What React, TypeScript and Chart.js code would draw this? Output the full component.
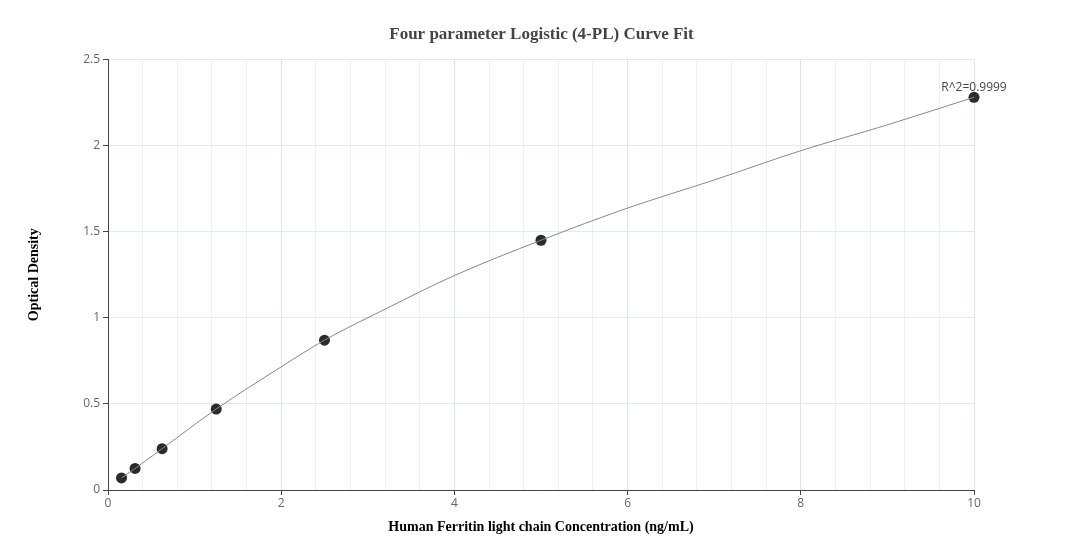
import { useRef, useEffect } from "react";
import { Chart, registerables } from "chart.js";

Chart.register(...registerables);

// standards (concentration, OD)
const conc = [0.156, 0.3125, 0.625, 1.25, 2.5, 5, 10];
const od = [0.07, 0.125, 0.24, 0.47, 0.87, 1.45, 2.28];

// fitted 4-PL curve
const curveX = [0.156, 0.3125, 0.625, 1.25, 2, 2.5, 3.2, 4, 5, 6, 7, 8, 9, 10];
const curveY = [0.07, 0.125, 0.24, 0.47, 0.715, 0.87, 1.05, 1.245, 1.45, 1.637, 1.8, 1.97, 2.12, 2.28];

const yTicks = [0, 0.5, 1, 1.5, 2, 2.5];
const rSquared = "R^2=0.9999";

const isMajor = (v: number) => Math.abs(v / 2 - Math.round(v / 2)) < 1e-6;

const r2Label = {
  id: "r2Label",
  afterDatasetsDraw(chart: any) {
    const { ctx, scales } = chart;
    const x = scales.x.getPixelForValue(conc[conc.length - 1]);
    const y = scales.y.getPixelForValue(od[od.length - 1]);
    ctx.save();
    ctx.font = "12px 'Open Sans'";
    ctx.fillStyle = "#444";
    ctx.textAlign = "center";
    ctx.textBaseline = "bottom";
    ctx.fillText(rSquared, x, y - 4);
    ctx.restore();
  },
};

const App = () => {
  const chartRef = useRef<HTMLCanvasElement>(null);

  useEffect(() => {
    document.body.style.margin = "0";

    const myChart = new Chart(chartRef.current!, {
      type: "scatter",
      data: {
        datasets: [
          {
            data: curveX.map((x, i) => ({ x, y: curveY[i] })),
            showLine: true,
            pointRadius: 0,
            borderColor: "#888",
            borderWidth: 1,
            tension: 0.4,
            cubicInterpolationMode: "monotone",
            clip: false,
          },
          {
            data: conc.map((x, i) => ({ x, y: od[i] })),
            pointRadius: 5.5,
            pointBackgroundColor: "#2b2b2b",
            pointBorderColor: "#2b2b2b",
            pointBorderWidth: 0,
            clip: false,
          },
        ],
      },
      options: {
        animation: false,
        responsive: false,
        layout: { padding: { left: 0, right: 0, top: 0, bottom: 20 } },
        plugins: {
          legend: { display: false },
          tooltip: { enabled: false },
          title: {
            display: true,
            text: "Four parameter Logistic (4-PL) Curve Fit",
            color: "#444",
            font: { family: "'Liberation Serif'", size: 17, weight: "bold" },
            padding: { top: 24, bottom: 15 },
          },
        },
        scales: {
          x: {
            type: "linear",
            min: 0,
            max: 10,
            afterFit: (s: any) => {
              s.height = 50;
            },
            ticks: {
              stepSize: 0.4,
              autoSkip: false,
              maxRotation: 0,
              padding: 1,
              color: "#666",
              font: { family: "'Open Sans'", size: 12 },
              callback: (v: any) => (isMajor(Number(v)) ? String(Math.round(Number(v))) : ""),
            },
            grid: {
              color: (c: any) => (isMajor(c.tick?.value ?? 0) ? "#dfe3ee" : "#eef0f6"),
              tickColor: (c: any) => (isMajor(c.tick?.value ?? 0) ? "#444" : "rgba(0,0,0,0)"),
              tickLength: 5,
            },
            border: { color: "#444", width: 1 },
            title: {
              display: true,
              text: "Human Ferritin light chain Concentration (ng/mL)",
              color: "#000",
              font: { family: "'Liberation Serif'", size: 14, weight: "bold" },
              padding: { top: 0, bottom: 4 },
            },
          },
          y: {
            min: 0,
            max: 2.5,
            afterFit: (s: any) => {
              s.width = 108;
            },
            afterBuildTicks: (s: any) => {
              s.ticks = yTicks.map((value) => ({ value }));
            },
            ticks: {
              padding: 3,
              color: "#666",
              font: { family: "'Open Sans'", size: 12 },
              callback: (v: any) => String(v),
            },
            grid: {
              color: "#e3e7f0",
              tickColor: "#444",
              tickLength: 5,
            },
            border: { color: "#444", width: 1 },
            title: {
              display: true,
              text: "Optical Density",
              color: "#000",
              font: { family: "'Liberation Serif'", size: 14, weight: "bold" },
              padding: { top: 26, bottom: 0 },
            },
          },
          // empty right axis, only keeps the plot's right margin
          yRight: {
            position: "right",
            display: true,
            grid: { display: false, drawTicks: false },
            border: { display: false },
            ticks: { display: false },
            afterFit: (s: any) => {
              s.width = 109;
            },
          },
        },
      },
      plugins: [r2Label],
    });

    return () => myChart.destroy();
  }, []);

  return (
    <div style={{ width: 1083, height: 560, background: "#fff" }}>
      <canvas ref={chartRef} width={1083} height={560}></canvas>
    </div>
  );
};

export default App;
